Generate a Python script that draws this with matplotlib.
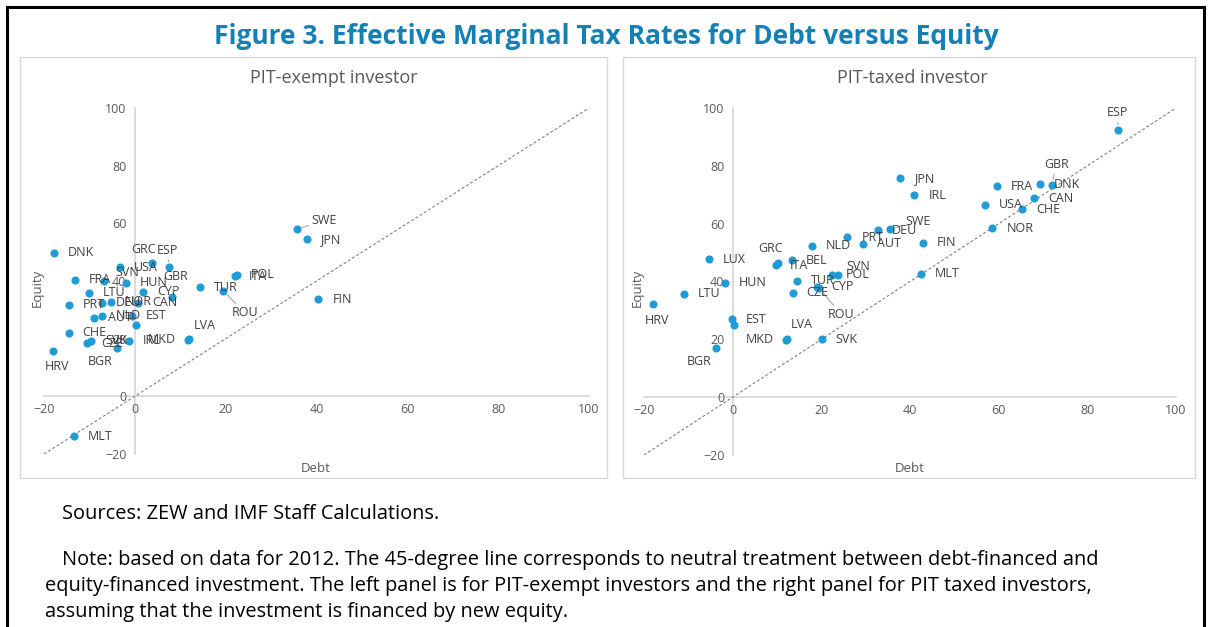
import matplotlib.pyplot as plt
from matplotlib.patches import Rectangle
from matplotlib.lines import Line2D

plt.rcParams['font.family'] = ['Open Sans', 'DejaVu Sans']

# PIT-exempt investor (left panel); '' = point without a visible label
exempt_countries = ['DNK', 'USA', 'GRC', 'ESP', 'FRA', 'SVN', 'HUN', 'LTU', 'CYP',
                    'GBR', 'TUR', 'ROU', 'ITA', 'POL', 'SWE', 'JPN', 'FIN', 'PRT',
                    'DEU', 'NOR', 'CAN', 'AUT', 'NLD', 'EST', '', 'CHE', 'CZE',
                    'SVK', 'BGR', 'IRL', 'MKD', 'LVA', 'HRV', 'MLT']
exempt_debt = [-17.8, -3.3, 3.7, 7.6, -13.2, -6.8, -1.9, -10.2, 1.9,
               8.1, 14.4, 19.5, 22.1, 22.4, 35.6, 37.8, 40.4, -14.6,
               -7.3, -5.3, 0.8, -8.9, -7.2, -0.7, 0.3, -14.6, -10.5,
               -9.6, -3.9, -1.3, 12.0, 11.8, -18.1, -13.4]
exempt_equity = [49.8, 44.7, 46.1, 44.7, 40.4, 40.1, 39.4, 35.9, 36.3,
                 34.5, 37.8, 36.6, 41.7, 42.1, 57.9, 54.5, 33.6, 31.7,
                 32.5, 32.8, 32.5, 27.3, 28.0, 27.9, 24.7, 22.1, 18.4,
                 19.2, 16.6, 19.2, 19.8, 19.5, 15.8, -13.8]

# PIT-taxed investor (right panel)
taxed_countries = ['ESP', 'JPN', 'IRL', 'FRA', 'DNK', 'GBR', 'CAN', 'USA', 'CHE',
                   'NOR', 'SWE', 'DEU', 'PRT', 'AUT', 'FIN', 'NLD', 'GRC', 'ITA',
                   'BEL', 'LUX', 'SVN', 'POL', 'TUR', 'CYP', 'ROU', 'CZE', 'MLT',
                   'HUN', 'LTU', 'HRV', 'EST', '', 'BGR', 'MKD', 'LVA', 'SVK']
taxed_debt = [87.0, 37.7, 41.0, 59.6, 69.3, 72.0, 68.0, 56.9, 65.3,
              58.6, 35.5, 32.7, 25.9, 29.5, 42.9, 17.8, 10.3, 9.8,
              13.3, -5.3, 23.8, 22.3, 14.4, 19.1, 19.5, 13.5, 42.4,
              -1.8, -11.0, -18.0, -0.2, 0.4, -3.7, 12.2, 12.0, 20.1]
taxed_equity = [92.4, 75.7, 69.9, 73.0, 73.7, 73.4, 68.8, 66.5, 65.0,
                58.4, 58.1, 57.8, 55.3, 53.0, 53.4, 52.3, 46.5, 45.7,
                47.4, 47.7, 42.3, 42.3, 40.3, 38.2, 37.6, 36.1, 42.6,
                39.6, 35.7, 32.2, 26.9, 24.9, 16.9, 20.0, 19.8, 20.0]

ticks = [-20, 0, 20, 40, 60, 80, 100]

# label placement (pixels from the point, y up); default is right of the point
exempt_offsets = {'GRC': (-20, 14), 'ESP': (-13, 17), 'SVN': (11, 8), 'GBR': (-8, 20),
                  'ROU': (8, -22), 'SWE': (15, 9), 'BGR': (-29, -13), 'HRV': (-8, -16),
                  'LVA': (5, 15), 'MKD': (-13, 0)}
taxed_offsets = {'ESP': (-12, 17), 'GBR': (-8, 20), 'SWE': (15, 8), 'GRC': (-20, 14),
                 'SVN': (8, 8), 'ROU': (9, -26), 'HRV': (-8, -16), 'BGR': (-30, -13),
                 'LVA': (5, 15), 'MKD': (-13, 0)}
leaders = {'ESP', 'GBR', 'ROU', 'SWE'}

W, H = 1210, 627
DOT = '#1f9bd7'
GRID = '#d9d9d9'
TXT = '#595959'


def fx(px):
    return px / W


def fy(py):
    return 1 - py / H


fig = plt.figure(figsize=(W / 100, H / 100), dpi=100)

# outer frame and panel boxes
for x0, y0, x1, y1 in [(7, 7, 7, 627), (7, 7, 1204, 7), (1204, 7, 1204, 627)]:
    fig.add_artist(Line2D([fx(x0), fx(x1)], [fy(y0), fy(y1)], color='black', lw=2.2))
for x0, x1 in [(20, 607), (623, 1195)]:
    fig.add_artist(Rectangle((fx(x0), fy(478)), fx(x1 - x0), (478 - 57) / H,
                             fill=False, ec=GRID, lw=1))

fig.text(fx(606), fy(37), 'Figure 3. Effective Marginal Tax Rates for Debt versus Equity',
         ha='center', va='center', fontsize=19, fontweight='bold', color='#1480b3')


def panel(rect, title, title_x, names, debt, equity, offsets):
    ax = fig.add_axes(rect)
    ax.set_xlim(-20, 100)
    ax.set_ylim(-20, 100)
    ax.patch.set_alpha(0)
    for s in ['top', 'right']:
        ax.spines[s].set_visible(False)
    for s in ['left', 'bottom']:
        ax.spines[s].set_position(('data', 0))
        ax.spines[s].set_color(GRID)
        ax.spines[s].set_linewidth(1.3)
        ax.spines[s].set_zorder(0)
    ax.set_xticks(ticks)
    ax.set_yticks(ticks)
    ax.tick_params(length=0, labelsize=9, labelcolor=TXT)
    ax.tick_params(axis='y', pad=6)
    ax.tick_params(axis='x', pad=5)
    ax.plot([-20, 100], [-20, 100], ls=(0, (2.5, 2)), color='#7f7f7f', lw=0.8, zorder=1)
    ax.scatter(debt, equity, s=34, color=DOT, zorder=3, linewidths=0)
    for name, x, y in zip(names, debt, equity):
        if not name:
            continue
        dx, dy = offsets.get(name, (14, 0))
        ha = 'right' if name == 'MKD' else 'left'
        arrow = None
        if name in leaders:
            arrow = dict(arrowstyle='-', color='#a6a6a6', lw=0.8, shrinkA=0, shrinkB=4)
        ax.annotate(name, (x, y), xytext=(dx, dy), textcoords='offset pixels',
                    ha=ha, va='center', fontsize=9, color='#404040',
                    arrowprops=arrow, zorder=4)
    fig.text(fx(title_x), fy(78), title, ha='center', va='center', fontsize=13, color=TXT)
    return ax


left = panel([fx(44), fy(454), 545 / W, 346 / H], 'PIT-exempt investor', 334,
             exempt_countries, exempt_debt, exempt_equity, exempt_offsets)
right = panel([fx(644), fy(455), 532 / W, 347 / H], 'PIT-taxed investor', 912,
              taxed_countries, taxed_debt, taxed_equity, taxed_offsets)

for x in [37, 637]:
    fig.text(fx(x), fy(288), 'Equity', rotation=90, ha='center', va='center',
             fontsize=9.5, color=TXT)
for x in [316, 910]:
    fig.text(fx(x), fy(468), 'Debt', ha='center', va='center', fontsize=9.5, color=TXT)

fig.text(fx(62), fy(514), 'Sources: ZEW and IMF Staff Calculations.',
         va='center', fontsize=14.4, color='black')
note = ['Note: based on data for 2012. The 45-degree line corresponds to neutral treatment between debt-financed and',
        'equity-financed investment. The left panel is for PIT-exempt investors and the right panel for PIT taxed investors,',
        'assuming that the investment is financed by new equity.']
for i, line in enumerate(note):
    fig.text(fx(62 if i == 0 else 45), fy(560 + 26 * i), line, va='center',
             fontsize=14.4, color='black')

fig.savefig('out.png', dpi=100, facecolor='white')
